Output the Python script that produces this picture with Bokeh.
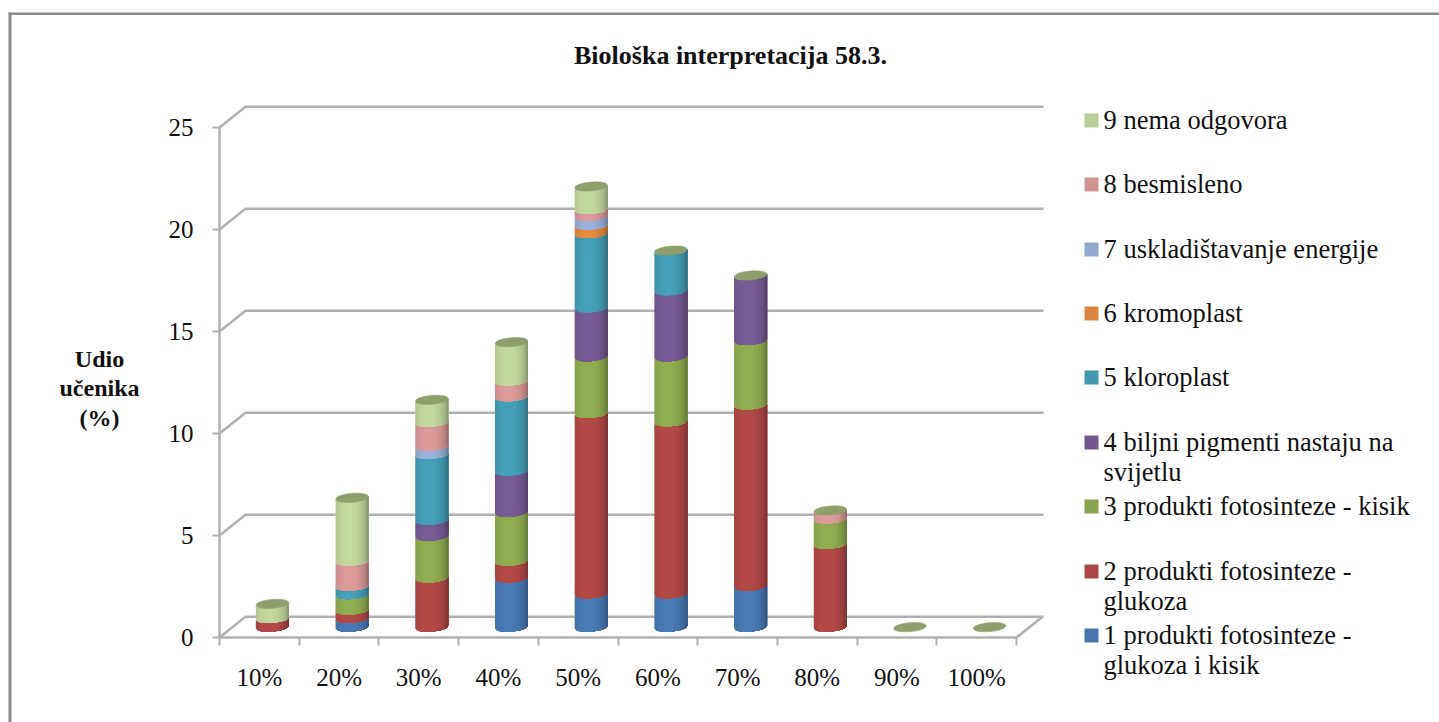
from math import sqrt
from bokeh.plotting import figure
from bokeh.models import Range1d, FixedTicker, LinearAxis, ColumnDataSource
from bokeh.core.properties import value
from bokeh.embed import file_html
from bokeh.resources import INLINE

# ---- data ----
categories = ["10%", "20%", "30%", "40%", "50%", "60%", "70%", "80%", "90%", "100%"]
s1 = [0.00, 0.43, 0.00, 2.42, 1.64, 1.64, 2.02, 0.00, 0, 0]
s2 = [0.43, 0.41, 2.42, 0.82, 8.84, 8.43, 8.88, 4.07, 0, 0]
s3 = [0.00, 0.76, 2.05, 2.40, 2.78, 3.19, 3.16, 1.24, 0, 0]
s4 = [0.00, 0.00, 0.78, 2.02, 2.40, 3.24, 3.18, 0.00, 0, 0]
s5 = [0.00, 0.41, 3.22, 3.64, 3.64, 1.96, 0.00, 0.00, 0, 0]
s6 = [0.00, 0.00, 0.00, 0.00, 0.41, 0.00, 0.00, 0.00, 0, 0]
s7 = [0.00, 0.00, 0.41, 0.00, 0.44, 0.00, 0.00, 0.00, 0, 0]
s8 = [0.00, 1.23, 1.17, 0.77, 0.33, 0.00, 0.00, 0.41, 0, 0]
s9 = [0.71, 3.10, 1.09, 1.90, 1.12, 0.00, 0.00, 0.00, 0, 0]
series = [s1, s2, s3, s4, s5, s6, s7, s8, s9]
names = ["1 produkti fotosinteze -\nglukoza i kisik", "2 produkti fotosinteze -\nglukoza",
         "3 produkti fotosinteze - kisik", "4 biljni pigmenti nastaju na\nsvijetlu",
         "5 kloroplast", "6 kromoplast", "7 uskladištavanje energije", "8 besmisleno", "9 nema odgovora"]
colors = ["#4674AB", "#AA4643", "#8AA54E", "#71588F", "#4198AF", "#DB843D", "#93A9CF", "#D19392", "#B9CD96"]
y_ticks = [0, 5, 10, 15, 20, 25]
title_text = "Biološka interpretacija 58.3."
y_title = "Udio\nučenika\n(%)"

# ---- layout constants ----
SERIF = "Liberation Serif"
INK = "#111111"
PX_X, PX_Y = 79.7, 20.4            # pixels per category / per percent
LEFT, BOTTOM = 219, 637            # page position of the origin
W, H = 1439, 722
DEPTH_X, DEPTH_Y = 26 / PX_X, 20.7 / PX_Y
RX, RY, SHEAR = 16.5, 4.5, 1.3     # cylinder radii, tilt, in pixels
GRID = "#b0b0b0"
FRAME = "#8c8c8c"

def dx(page_x):
    return (page_x - LEFT) / PX_X

def dy(page_y):
    return (BOTTOM - page_y) / PX_Y

p = figure(width=W, height=H, output_backend="svg", toolbar_location=None,
           x_axis_type=None, y_axis_type=None,
           x_range=Range1d(dx(0), dx(W)), y_range=Range1d(dy(H), dy(0)),
           min_border=0)
p.outline_line_color = None

# ---- axes ----
n = len(categories)
xa = LinearAxis(fixed_location=0)
xa.ticker = FixedTicker(ticks=[i + 0.5 for i in range(n)], minor_ticks=list(range(n + 1)))
xa.major_label_overrides = {i + 0.5: c for i, c in enumerate(categories)}
xa.major_tick_out = 0
xa.major_tick_in = 0
xa.minor_tick_out = 8
xa.minor_tick_in = 0
xa.minor_tick_line_color = GRID
xa.minor_tick_line_width = 2
xa.axis_line_color = GRID
xa.axis_line_width = 2.5
xa.bounds = (0, n)
xa.major_label_standoff = 18
xa.major_label_text_font = SERIF
xa.major_label_text_font_size = "25px"
xa.major_label_text_color = INK
p.add_layout(xa, "below")

ya = LinearAxis(fixed_location=0)
ya.ticker = FixedTicker(ticks=y_ticks, minor_ticks=[])
ya.major_tick_out = 7
ya.major_tick_in = 0
ya.major_tick_line_color = GRID
ya.major_tick_line_width = 2
ya.axis_line_color = GRID
ya.axis_line_width = 2.5
ya.bounds = (0, 25)
ya.major_label_standoff = 19
ya.major_label_text_font = SERIF
ya.major_label_text_font_size = "25px"
ya.major_label_text_color = INK
p.add_layout(ya, "left")

# ---- floor and wall lines ----
gx, gy = [], []
for t in y_ticks:
    gx.append([0, DEPTH_X, dx(1043)])
    gy.append([t, t + DEPTH_Y, t + DEPTH_Y])
gx.append([n, n + DEPTH_X])
gy.append([0, DEPTH_Y])
p.multi_line(gx, gy, line_color=GRID, line_width=2.5)

# ---- cylinders ----
def shade(col, f):
    r, g, b = (int(col[i:i + 2], 16) for i in (1, 3, 5))
    return "#%02x%02x%02x" % tuple(min(255, int(c * f)) for c in (r, g, b))

def factor(u):
    edge = 0.76 if u < 0 else 0.62
    return edge + (1.06 - edge) * sqrt(max(0, 1 - ((u + 0.15) / 1.15) ** 2))

N = 22
us = [-1 + 2 * i / N for i in range(N + 1)]

def front(u):
    return (-RY * sqrt(max(0, 1 - u * u)) + SHEAR * u) / PX_Y

xs, ys, cs = [], [], []
caps_x, caps_y = [], []
for i in range(n):
    xc = i + 0.5 + DEPTH_X / 2
    cum = DEPTH_Y / 2
    for vals, col in zip(series, colors):
        v = vals[i]
        if v <= 0:
            continue
        for k in range(N):
            # each strip runs on to the far edge, the next one paints over it: no seams
            part = us[k:]
            bx = [xc + RX * u / PX_X for u in part]
            low = [cum + front(u) for u in part]
            high = [cum + v + front(u) for u in part]
            xs.append(bx + bx[::-1])
            ys.append(low + high[::-1])
            cs.append(shade(col, factor((us[k] + us[k + 1]) / 2)))
        cum += v
    cx = [xc + RX * u / PX_X for u in us + us[::-1]]
    cy = [cum + front(u) for u in us] + [cum + (RY * sqrt(max(0, 1 - u * u)) + SHEAR * u) / PX_Y for u in us[::-1]]
    caps_x.append(cx)
    caps_y.append(cy)

src = ColumnDataSource(dict(xs=xs, ys=ys, c=cs))
p.patches("xs", "ys", source=src, fill_color="c", line_color=None)
p.patches(caps_x, caps_y, fill_color="#8F9F6C", line_color="#8F9F6C", line_width=0.5)

# ---- page frame ----
p.quad(left=[dx(8), dx(8)], right=[dx(11), dx(W)], top=[dy(12), dy(12)], bottom=[dy(H), dy(14.5)],
       fill_color=FRAME, line_color=None)

# ---- texts ----
p.text(x=[dx(730)], y=[dy(55)], text=[title_text], text_font=value(SERIF), text_font_style="bold",
       text_font_size="26px", text_align="center", text_baseline="middle", text_color=INK)
title_lines = y_title.split("\n")
p.text(x=[dx(99)] * 3, y=[dy(358), dy(387), dy(417)], text=title_lines, text_font=value(SERIF), text_font_style="bold",
       text_font_size="24px", text_align="center", text_baseline="middle", text_color=INK)

# ---- legend ----
key_y = [635, 571, 506, 442, 377, 313, 249, 184, 120]
p.quad(left=[dx(1084)] * 9, right=[dx(1098)] * 9, top=[dy(k - 7) for k in key_y], bottom=[dy(k + 7) for k in key_y],
       fill_color=colors, line_color=None)
lx, ly, lt = [], [], []
for name, k in zip(names, key_y):
    for j, line in enumerate(name.split("\n")):
        lx.append(dx(1103))
        ly.append(dy(k - 1 + 30 * j))
        lt.append(line)
p.text(x=lx, y=ly, text=lt, text_font=value(SERIF), text_font_size="26.5px",
       text_align="left", text_baseline="middle", text_color=INK)

open("out.html", "w").write(file_html(p, INLINE))
